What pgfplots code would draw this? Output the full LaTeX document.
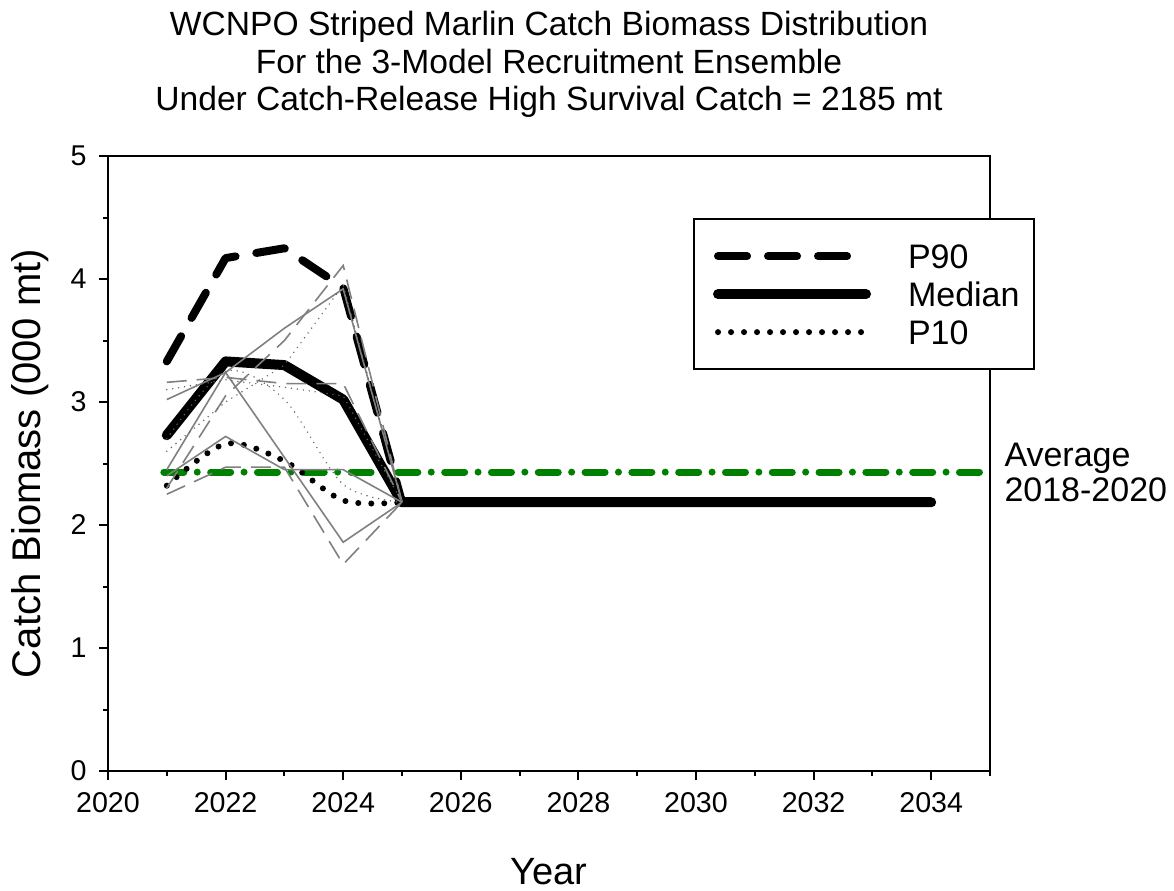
\documentclass[border=0pt]{standalone}
\usepackage{pgfplots}
\pgfplotsset{compat=1.18}
\usepackage{fontspec}
\setmainfont{Liberation Sans}
\definecolor{avggreen}{RGB}{0,128,0}
\definecolor{thingray}{RGB}{128,128,128}
\begin{document}
\begin{tikzpicture}
\useasboundingbox (-54pt,-59.5pt) rectangle (533pt,385.5pt);
\begin{axis}[
  at={(0,0)}, anchor=south west,
  scale only axis, width=441pt, height=307.5pt,
  xmin=2020, xmax=2035, ymin=0, ymax=5,
  clip=false,
  xtick={2020,2022,...,2034}, minor xtick={2021,2023,...,2035},
  ytick={0,1,...,5}, minor ytick={0.5,1.5,...,4.5},
  xtick pos=bottom, ytick pos=left, tick align=outside,
  major tick length=4.5pt, minor tick length=2.5pt,
  axis line style={line width=1pt},
  every tick/.style={black, line width=1pt},
  /pgf/number format/.cd, 1000 sep={}, assume math mode=true, /pgfplots/.cd,
  tick label style={font=\fontsize{14.3}{17}\selectfont},
  xticklabel style={yshift=-2.8pt},
  yticklabel style={xshift=-2.7pt},
  title={WCNPO Striped Marlin Catch Biomass Distribution\\For the 3-Model Recruitment Ensemble\\Under Catch-Release High Survival Catch = 2185 mt},
  title style={at={(0.5,1)}, anchor=north, yshift=66.5pt, align=center, inner sep=0pt, font=\fontsize{16.8}{18.75}\selectfont},
  xlabel={Year},
  xlabel style={at={(axis description cs:0.5,0)}, anchor=base, yshift=-56.5pt, inner sep=0pt, font=\fontsize{19}{22}\selectfont},
  ylabel={Catch Biomass (000 mt)},
  ylabel style={at={(axis description cs:-0.076,0.5)}, anchor=base, inner sep=0pt, font=\fontsize{20}{24}\selectfont},
  legend image code/.code={\path (0pt,0pt); \draw[#1] (2.5pt,0pt) -- (76.5pt,0pt);},
  legend cell align=left,
  legend style={at={(rel axis cs:0.6633,0.899)}, anchor=north west, fill=white, draw=black, line width=1pt,
    inner xsep=7pt, inner ysep=12.4pt, row sep=6.8pt,
    font=\fontsize{17}{20}\selectfont,
    nodes={inner sep=0pt, text height=12.2pt, text depth=0pt, anchor=west},
    /tikz/every odd column/.append style={column sep=18.5pt}},
]
% average 2018-2020
\addplot[avggreen, line width=3.5pt, dash pattern=on 10pt off 6.7pt on 0pt off 6.7pt, line cap=round, forget plot]
  coordinates {(2020.95,2.43) (2034.9,2.43)};
% P90
\addplot[black, line width=4pt, dash pattern=on 14.5pt off 10.5pt, line cap=round, line join=round]
  coordinates {(2021,3.33) (2022,4.17) (2023,4.25) (2024,3.93) (2025,2.185)};
\addlegendentry{P90}
% Median
\addplot[black, line width=5pt, line cap=round, line join=round]
  coordinates {(2021,2.73) (2022,3.33) (2023,3.30) (2024,3.02) (2025,2.185) (2026,2.185) (2027,2.185) (2028,2.185) (2029,2.185) (2030,2.185) (2031,2.185) (2032,2.185) (2033,2.185) (2034,2.185)};
\addlegendentry{Median}
% P10
\addplot[black, line width=3pt, dash pattern=on 0pt off 6.5pt, line cap=round, smooth]
  coordinates {(2021,2.32) (2022,2.66) (2023,2.52) (2024,2.20) (2025,2.185)};
\addlegendentry{P10}
% individual model percentiles (gray)
\addplot[thingray, line width=0.8pt, forget plot]
  coordinates {(2021,3.02) (2022,3.24) (2023,3.60) (2024,3.92) (2025,2.185)};
\addplot[thingray, line width=0.8pt, forget plot]
  coordinates {(2021,2.45) (2022,3.24) (2023,2.55) (2024,1.86) (2025,2.185)};
\addplot[thingray, line width=0.8pt, forget plot]
  coordinates {(2021,2.40) (2022,2.72) (2023,2.45) (2024,2.45) (2025,2.185)};
\addplot[thingray, line width=0.8pt, dash pattern=on 10pt off 5pt, forget plot]
  coordinates {(2021,3.16) (2022,3.20) (2023,3.15) (2024,3.15) (2025,2.185)};
\addplot[thingray, line width=0.8pt, dash pattern=on 10pt off 5pt, forget plot]
  coordinates {(2021,2.25) (2022,2.47) (2023,2.47) (2024,1.68) (2025,2.185)};
\addplot[thingray, line width=0.8pt, dash pattern=on 10pt off 5pt, forget plot]
  coordinates {(2021,2.30) (2022,3.05) (2023,3.50) (2024,4.11) (2025,2.185)};
\addplot[black!60, line width=0.8pt, dash pattern=on 0pt off 3pt, line cap=round, smooth, forget plot]
  coordinates {(2021,2.70) (2022,3.25) (2023,3.02) (2024,2.33) (2025,2.185)};
\addplot[black!60, line width=0.8pt, dash pattern=on 0pt off 3pt, line cap=round, forget plot]
  coordinates {(2021,3.10) (2022,3.18) (2023,3.12) (2024,3.05) (2025,2.185)};
\addplot[black!60, line width=0.8pt, dash pattern=on 0pt off 3pt, line cap=round, forget plot]
  coordinates {(2021,2.60) (2022,3.00) (2023,3.30) (2024,3.95) (2025,2.185)};
\node[anchor=west, align=left, inner sep=0pt, font=\fontsize{17}{17.5}\selectfont] at (axis cs:2035.24,2.43) {Average\\2018-2020};
\end{axis}
\end{tikzpicture}
\end{document}
